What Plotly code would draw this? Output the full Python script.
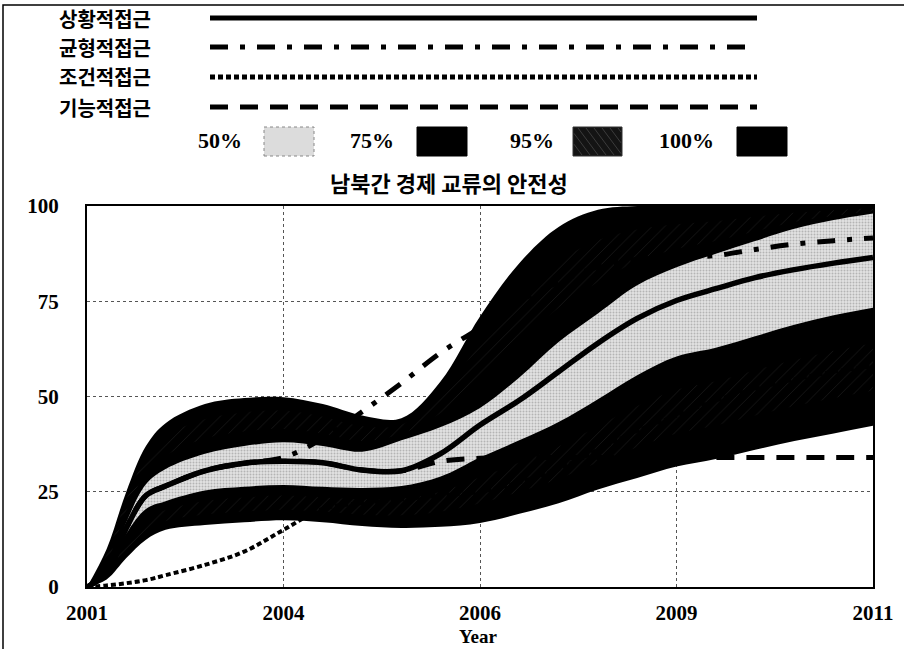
import plotly.graph_objects as go

# ---------------- data ----------------
years = [2001, 2001.25, 2001.5, 2001.75, 2002, 2002.5, 2003, 2003.5, 2004, 2004.5,
         2005, 2005.5, 2006, 2006.5, 2007, 2007.5, 2008, 2008.5, 2009, 2009.5,
         2010, 2010.5, 2011]

upper_100 = [0, 10, 25, 37, 43, 48, 49.6, 49.8, 48, 45, 44.3, 54, 71, 85, 94.5, 99,
             100, 100, 100, 100, 100, 100, 100]
lower_100 = [0, 2, 7.6, 12.4, 15, 16.3, 17, 17.5, 17, 16, 15.5, 15.8, 16.8, 19.2, 22,
             25.6, 28.6, 31.6, 33.6, 36, 38.3, 40.3, 42.3]
upper_95 = [0, 8.5, 23, 34, 39.5, 44, 45.8, 46.3, 44.7, 42.2, 42.6, 50.4, 63.8, 76, 85.4,
            91, 93.8, 95.2, 96, 97.2, 98.2, 98.9, 99.4]
lower_95 = [0, 2.3, 9.5, 14.8, 17.3, 19, 19.8, 20.3, 19.8, 19, 18.8, 19.8, 22, 25, 28.4,
            32.7, 36.7, 40.3, 42.4, 45, 47.5, 49.6, 51.6]
upper_75 = [0, 6.5, 20, 30, 34.5, 39, 40.8, 41.5, 40.3, 38.3, 40.2, 45.6, 54, 64, 73.3,
            80, 85.4, 88.7, 90.8, 93.3, 95.8, 97.4, 98.6]
lower_75 = [0, 2.8, 12, 18, 20.2, 22.6, 23.5, 24, 23.5, 23, 23.2, 25, 28.8, 32.7, 36.9,
            42.2, 47.5, 51.8, 54, 56.9, 59.6, 62, 64]
upper_50 = [0, 4, 17, 27, 31, 35, 37, 38, 37, 35.5, 38.5, 42, 47, 55, 64.3, 71.8, 79.2,
            83.9, 87.5, 90.8, 94, 96.3, 98]
lower_50 = [0, 3.5, 14, 20.5, 22.5, 25.3, 26.3, 26.8, 26.3, 26, 26.5, 29, 34, 38.5, 43.3,
            49.3, 55.6, 60.5, 62.8, 65.8, 68.8, 71.3, 73.3]

situational = [0, 3.8, 15.5, 24, 26.5, 30.5, 32.5, 33, 32.6, 30.7, 30.5, 35, 42.5, 49,
               56.5, 64, 70.5, 75.2, 78.3, 81.2, 83.3, 85, 86.5]
balanced = [0, 3.8, 15.5, 24, 26.5, 30.5, 32.5, 34, 39, 46, 53.5, 61.5, 68, 75, 80, 84,
            86, 86.5, 87, 88.6, 90, 90.9, 91.6]
conditional = [0, 0.4, 1.0, 1.8, 3.1, 5.8, 9.3, 15, 20.5, 22, 23, 24, 25, 27.5, 31, 36,
               41, 45, 49, 52, 54.5, 56.5, 58]
functional = [0, 3.8, 15.5, 24, 26.5, 30.5, 32.5, 33, 32.6, 30.7, 30.5, 33, 33.8, 34, 34,
              34, 34, 34, 34, 34, 34, 34, 34]

series_names = ["상황적접근", "균형적접근", "조건적접근", "기능적접근"]
band_labels = ["50%", "75%", "95%", "100%"]
chart_title = "남북간 경제 교류의 안전성"
x_tickvals = [2001, 2003.5, 2006, 2008.5, 2011]
x_ticktext = ["2001", "2004", "2006", "2009", "2011"]
y_tickvals = [0, 25, 50, 75, 100]

# ---------------- styling ----------------
W, H = 904, 649
ML, MR, MT, MB = 87, 31, 206, 62
PW, PH = W - ML - MR, H - MT - MB
KR = "Noto Sans CJK KR"
SERIF = "Liberation Serif"

DASHDOT = "18px,12px,5px,12px"
DOTTED = "5px,3px"
DASHED = "18px,12px"


def px(x):
    return (x - ML) / PW


def py(y):
    return (MT + PH - y) / PH


fig = go.Figure()


def band(lo, hi, color, pattern=None):
    fig.add_trace(go.Scatter(x=years, y=lo, mode="lines", line=dict(width=0, shape="spline"),
                             hoverinfo="skip", showlegend=False))
    kw = dict(x=years, y=hi, mode="lines", line=dict(width=0, shape="spline"),
              fill="tonexty", fillcolor=color, hoverinfo="skip", showlegend=False)
    if pattern:
        kw["fillpattern"] = pattern
    fig.add_trace(go.Scatter(**kw))


band(lower_100, upper_100, "black")
band(lower_95, upper_95, "black",
     dict(shape="/", bgcolor="black", fgcolor="#2e2e2e", size=9, solidity=0.1))
band(lower_75, upper_75, "black")
band(lower_50, upper_50, "#dcdcdc",
     dict(shape=".", bgcolor="#e2e2e2", fgcolor="#858585", size=3, solidity=0.35))

line_specs = [
    (functional, DASHED, 5),
    (conditional, DOTTED, 4),
    (balanced, DASHDOT, 5),
    (situational, "solid", 5.5),
]
for vals, dash, w in line_specs:
    fig.add_trace(go.Scatter(x=years, y=vals, mode="lines",
                             line=dict(color="black", width=w, dash=dash, shape="spline"),
                             hoverinfo="skip", showlegend=False))

shapes = []
annotations = []

# outer frame (left & top visible)
shapes.append(dict(type="rect", xref="paper", yref="paper",
                   x0=px(3), x1=px(912), y0=py(660), y1=py(5),
                   line=dict(color="black", width=1.5), layer="below"))

# legend: line samples
row_y = [18, 47, 77, 107]
dashes = ["solid", DASHDOT, DOTTED, DASHED]
for name, yy, d in zip(series_names, row_y, dashes):
    annotations.append(dict(text=name, xref="paper", yref="paper", x=px(105), y=py(yy),
                            xanchor="center", yanchor="middle", showarrow=False,
                            font=dict(family=KR, size=20, color="black", weight="bold")))
    shapes.append(dict(type="line", xref="paper", yref="paper", x0=px(210), x1=px(757),
                       y0=py(yy), y1=py(yy), line=dict(color="black", width=5, dash=d)))

# legend: band swatches
label_x = [220, 372, 532, 686]
sw_x = [(264, 314), (417, 467), (573, 622), (737, 787)]
sw_fill = ["#dcdcdc", "black", "#141414", "black"]
sw_line = ["#888", "black", "#333", "black"]
sw_top, sw_bot, sw_mid = 127, 156, 141
for lab, lx, (x0, x1), fc, lc in zip(band_labels, label_x, sw_x, sw_fill, sw_line):
    annotations.append(dict(text=lab, xref="paper", yref="paper", x=px(lx), y=py(sw_mid),
                            xanchor="center", yanchor="middle", showarrow=False,
                            font=dict(family=SERIF, size=22, color="black", weight="bold")))
    shapes.append(dict(type="rect", xref="paper", yref="paper", x0=px(x0), x1=px(x1),
                       y0=py(sw_bot), y1=py(sw_top), fillcolor=fc,
                       line=dict(color=lc, width=1, dash="dot" if lab == "50%" else "solid")))
# faint hatch on the 95% swatch, clipped to the box
hx0, hx1 = sw_x[2]
bw, bh = hx1 - hx0 - 2, sw_bot - sw_top - 2
run = 20.0
for s in range(-20, bw, 8):
    t0 = max(0.0, -s / run)
    t1 = min(1.0, (bw - s) / run)
    if t1 <= t0:
        continue
    shapes.append(dict(type="line", xref="paper", yref="paper",
                       x0=px(hx0 + 1 + s + run * t0), y0=py(sw_top + 1 + bh * t0),
                       x1=px(hx0 + 1 + s + run * t1), y1=py(sw_top + 1 + bh * t1),
                       line=dict(color="#3c3c3c", width=1)))

# chart title
annotations.append(dict(text=chart_title, xref="paper", yref="paper", x=px(449), y=py(182),
                        xanchor="center", yanchor="middle", showarrow=False,
                        font=dict(family=KR, size=22, color="black", weight="bold")))
# x axis title
annotations.append(dict(text="Year", xref="paper", yref="paper", x=px(478), y=py(636),
                        xanchor="center", yanchor="middle", showarrow=False,
                        font=dict(family=SERIF, size=19, color="black", weight="bold")))

fig.update_layout(
    width=W, height=H,
    margin=dict(l=ML, r=MR, t=MT, b=MB, pad=0),
    paper_bgcolor="white", plot_bgcolor="white",
    showlegend=False,
    shapes=shapes, annotations=annotations,
    xaxis=dict(range=[2001, 2011], tickvals=x_tickvals, ticktext=x_ticktext,
               showgrid=True, gridcolor="#555", gridwidth=1, griddash="dot",
               showline=True, linecolor="black", linewidth=2, mirror=True,
               ticks="", ticklabelstandoff=6, zeroline=False,
               tickfont=dict(family=SERIF, size=21, color="black", weight="bold")),
    yaxis=dict(range=[0, 100], tickvals=y_tickvals,
               showgrid=True, gridcolor="#555", gridwidth=1, griddash="dot",
               showline=True, linecolor="black", linewidth=2, mirror=True,
               ticks="", ticklabelstandoff=22, zeroline=False,
               tickfont=dict(family=SERIF, size=21, color="black", weight="bold")),
)

fig.write_html("out.html")
